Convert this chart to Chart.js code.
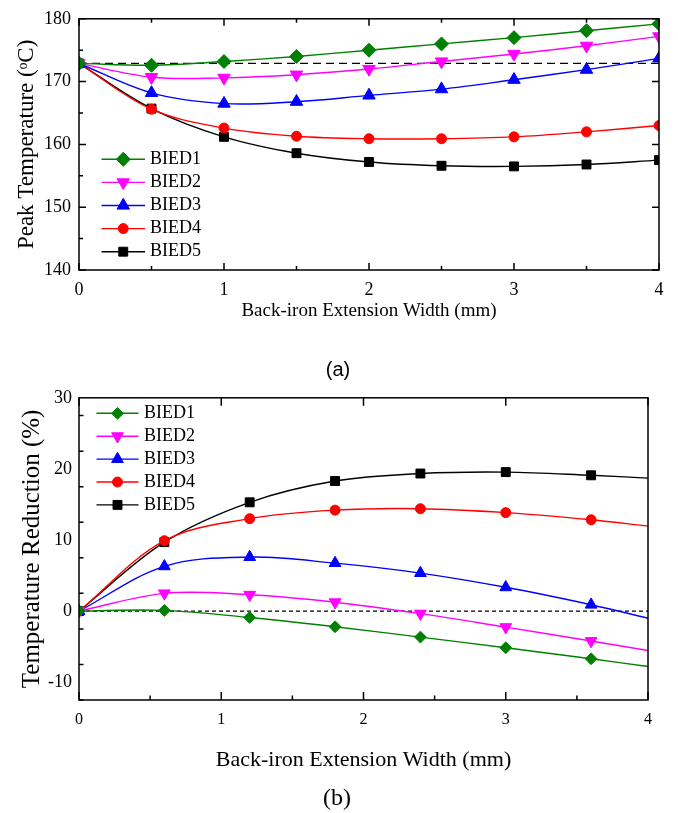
<!DOCTYPE html>
<html>
<head>
<meta charset="utf-8">
<script src="https://cdn.jsdelivr.net/npm/chart.js@4.4.1/dist/chart.umd.min.js"></script>
<style>
  html, body { margin: 0; padding: 0; background: #fff; }
  body { width: 678px; height: 813px; position: relative; overflow: hidden; }
  .box { position: absolute; left: 0; width: 678px; }
  #boxA { top: 0; height: 340px; }
  #boxB { top: 380px; height: 433px; }
  .cap { position: absolute; transform: translate(-50%, -50%); white-space: nowrap; color: #000; }
  #capA { left: 338px; top: 369px; font: 20px "Liberation Sans", Arial, sans-serif; }
  #capB { left: 337px; top: 797px; font: 24px "Liberation Serif", "Times New Roman", serif; }
</style>
</head>
<body>
<div class="box" id="boxA"><canvas id="chartA"></canvas></div>
<div class="box" id="boxB"><canvas id="chartB"></canvas></div>
<div class="cap" id="capA">(a)</div>
<div class="cap" id="capB">(b)</div>
<script>
// ---- (a) peak temperature vs back-iron extension width ----
const widthA = [0, 0.5, 1, 1.5, 2, 2.5, 3, 3.5, 4];
const peakBIED1 = [172.9, 172.6, 173.2, 174.0, 175.0, 176.0, 177.0, 178.1, 179.2];
const peakBIED2 = [172.9, 170.7, 170.6, 171.1, 172.0, 173.2, 174.4, 175.7, 177.2];
const peakBIED3 = [172.9, 168.2, 166.5, 166.8, 167.8, 168.8, 170.3, 171.9, 173.7];
const peakBIED4 = [172.9, 165.6, 162.6, 161.3, 160.9, 160.9, 161.2, 162.0, 163.0];
const peakBIED5 = [172.9, 165.7, 161.2, 158.6, 157.2, 156.6, 156.5, 156.8, 157.5];
const peakBaseline = 172.9;

// ---- (b) temperature reduction vs back-iron extension width ----
const widthB = [0, 0.6, 1.2, 1.8, 2.4, 3.0, 3.6, 4.0];
const redBIED1 = [0, 0.1, -0.9, -2.2, -3.65, -5.15, -6.7, -7.8];
const redBIED2 = [0, 2.5, 2.3, 1.25, -0.35, -2.25, -4.2, -5.55];
const redBIED3 = [0, 6.3, 7.6, 6.75, 5.35, 3.35, 0.9, -1.0];
const redBIED4 = [0, 9.9, 13.0, 14.2, 14.4, 13.85, 12.85, 11.95];
const redBIED5 = [0, 9.7, 15.3, 18.3, 19.35, 19.55, 19.1, 18.7];
const redBaseline = 0;

// ---- shared series look and tick labels ----
const seriesNames = ['BIED1', 'BIED2', 'BIED3', 'BIED4', 'BIED5'];
const seriesColors = ['#008000', '#ff00ff', '#0000ff', '#ff0000', '#000000'];
const seriesMarkers = ['rectRot', 'triangle', 'triangle', 'circle', 'rect'];
const seriesMarkerTurn = [0, 180, 0, 0, 0];
const xTickValues = [0, 1, 2, 3, 4];
const yTickValuesA = [140, 150, 160, 170, 180];
const yTickValuesB = [-10, 0, 10, 20, 30];

const SERIF = '"Liberation Serif", "Times New Roman", serif';
Chart.defaults.font.family = SERIF;
Chart.defaults.color = '#000';

function series(xs, ys, i, radius, markLast) {
  return {
    label: seriesNames[i],
    data: xs.map((x, k) => ({ x: x, y: ys[k] })),
    borderColor: seriesColors[i],
    backgroundColor: seriesColors[i],
    pointBackgroundColor: seriesColors[i],
    pointBorderColor: seriesColors[i],
    pointStyle: seriesMarkers[i],
    pointRotation: seriesMarkerTurn[i],
    pointRadius: markLast ? radius : xs.map((_, k) => (k === xs.length - 1 ? 0 : radius)),
    pointBorderWidth: 1,
    borderWidth: 1.4,
    tension: 0.35,
    markerSize: radius
  };
}

function baseline(value, dash) {
  return {
    label: '',
    inLegend: false,
    data: [{ x: 0, y: value }, { x: 4, y: value }],
    borderColor: '#000',
    borderWidth: 1.2,
    borderDash: dash,
    pointRadius: 0,
    tension: 0
  };
}

// inward tick marks on all four sides plus the box frame
const framePlugin = {
  id: 'frame',
  afterDatasetsDraw(chart, args, o) {
    const { ctx, chartArea: a } = chart;
    const xs = chart.scales.x, ys = chart.scales.y;
    const majX = xTickValues;
    const minX = majX.slice(0, -1).map(v => v + 0.5);
    const step = o.yStep;
    const majY = [], minY = [];
    for (let v = ys.min; v <= ys.max + 1e-9; v += step / 2) {
      const r = Math.round(v * 1000) / 1000;
      if (Math.abs(r / step - Math.round(r / step)) < 1e-6) majY.push(r); else minY.push(r);
    }
    ctx.save();
    ctx.strokeStyle = '#000';
    ctx.lineWidth = o.lineWidth;
    ctx.beginPath();
    const line = (x1, y1, x2, y2) => { ctx.moveTo(x1, y1); ctx.lineTo(x2, y2); };
    majX.forEach(v => {
      const p = xs.getPixelForValue(v);
      line(p, a.bottom, p, a.bottom - o.major);
      line(p, a.top, p, a.top + o.major);
    });
    minX.forEach(v => {
      const p = xs.getPixelForValue(v);
      line(p, a.bottom, p, a.bottom - o.minor);
      if (o.topMinor) line(p, a.top, p, a.top + o.minor);
    });
    majY.forEach(v => {
      const p = ys.getPixelForValue(v);
      line(a.left, p, a.left + o.major, p);
      line(a.right, p, a.right - o.major, p);
    });
    minY.forEach(v => {
      const p = ys.getPixelForValue(v);
      line(a.left, p, a.left + o.minor, p);
      if (o.rightMinor) line(a.right, p, a.right - o.minor, p);
    });
    ctx.stroke();
    ctx.strokeRect(a.left, a.top, a.right - a.left, a.bottom - a.top);
    ctx.restore();
  }
};

// legend rows: short line with the marker in its middle, then the name
const lineLegendPlugin = {
  id: 'lineLegend',
  afterDraw(chart, args, o) {
    const ctx = chart.ctx;
    ctx.save();
    let row = 0;
    chart.data.datasets.forEach(ds => {
      if (ds.inLegend === false) return;
      const y = o.top + row * o.step;
      row++;
      ctx.strokeStyle = ds.borderColor;
      ctx.lineWidth = ds.borderWidth;
      ctx.setLineDash([]);
      ctx.beginPath();
      ctx.moveTo(o.lineStart, y);
      ctx.lineTo(o.lineEnd, y);
      ctx.stroke();
      ctx.fillStyle = ds.pointBackgroundColor;
      ctx.strokeStyle = ds.pointBorderColor;
      ctx.lineWidth = 1;
      Chart.helpers.drawPoint(ctx, {
        pointStyle: ds.pointStyle,
        rotation: ds.pointRotation,
        radius: ds.markerSize,
        borderWidth: 1
      }, (o.lineStart + o.lineEnd) / 2, y);
      ctx.fillStyle = '#000';
      ctx.font = o.fontSize + 'px ' + SERIF;
      ctx.textAlign = 'left';
      ctx.textBaseline = 'middle';
      ctx.fillText(ds.label, o.textX, y);
    });
    ctx.restore();
  }
};

function makeChart(id, cfg) {
  return new Chart(document.getElementById(id), {
    type: 'line',
    data: { datasets: cfg.datasets },
    plugins: [framePlugin, lineLegendPlugin],
    options: {
      responsive: true,
      maintainAspectRatio: false,
      animation: false,
      events: [],
      layout: { padding: cfg.padding },
      plugins: {
        legend: { display: false },
        tooltip: { enabled: false },
        frame: cfg.frame,
        lineLegend: cfg.legend
      },
      scales: {
        x: {
          type: 'linear',
          min: 0,
          max: 4,
          afterBuildTicks: s => { s.ticks = xTickValues.map(v => ({ value: v })); },
          afterFit: s => { s.height = cfg.xHeight; },
          grid: { display: false, drawTicks: false },
          border: { display: false },
          ticks: { padding: cfg.xTickPad, font: { size: cfg.xTickSize }, color: '#000', maxRotation: 0 },
          title: {
            display: true,
            text: 'Back-iron Extension Width (mm)',
            font: { size: cfg.xTitleSize },
            color: '#000',
            padding: { top: 0, bottom: cfg.xTitleBottom }
          }
        },
        y: {
          type: 'linear',
          min: cfg.yMin,
          max: cfg.yMax,
          afterBuildTicks: s => { s.ticks = cfg.yTicks.map(v => ({ value: v })); },
          afterFit: s => { s.width = 79; },
          grid: { display: false, drawTicks: false },
          border: { display: false },
          ticks: { padding: cfg.yTickPad, font: { size: cfg.yTickSize }, color: '#000' },
          title: {
            display: true,
            text: cfg.yTitle,
            font: { size: cfg.yTitleSize },
            color: '#000',
            padding: { top: cfg.yTitleLeft, bottom: 0 }
          }
        }
      }
    }
  });
}

makeChart('chartA', {
  datasets: [
    series(widthA, peakBIED1, 0, 7, true),
    series(widthA, peakBIED2, 1, 7.2, true),
    series(widthA, peakBIED3, 2, 7.2, true),
    series(widthA, peakBIED4, 3, 5, true),
    series(widthA, peakBIED5, 4, 6.3, true),
    baseline(peakBaseline, [8, 5])
  ],
  padding: { top: 10, right: 19, left: 0, bottom: 0 },
  xHeight: 70, xTickPad: 9, xTickSize: 18, xTitleSize: 19, xTitleBottom: 18,
  yMin: 140, yMax: 180, yTicks: yTickValuesA,
  yTickPad: 8, yTickSize: 18,
  yTitle: 'Peak Temperature (\u1D52C)', yTitleSize: 23, yTitleLeft: 13,
  frame: { yStep: 10, major: 7, minor: 4, lineWidth: 1.5, topMinor: true, rightMinor: false },
  legend: { top: 159.3, step: 23.1, lineStart: 101.5, lineEnd: 145, textX: 150, fontSize: 18 }
});

makeChart('chartB', {
  datasets: [
    series(widthB, redBIED1, 0, 5.9, false),
    series(widthB, redBIED2, 1, 6.8, false),
    series(widthB, redBIED3, 2, 6.8, false),
    series(widthB, redBIED4, 3, 5, false),
    series(widthB, redBIED5, 4, 6.3, false),
    baseline(redBaseline, [4, 3])
  ],
  padding: { top: 17.7, right: 30, left: 0, bottom: 0 },
  xHeight: 113, xTickPad: 10, xTickSize: 16, xTitleSize: 22, xTitleBottom: 40,
  yMin: -12.5, yMax: 30, yTicks: yTickValuesB,
  yTickPad: 7, yTickSize: 18,
  yTitle: 'Temperature Reduction (%)', yTitleSize: 25, yTitleLeft: 17,
  frame: { yStep: 10, major: 8, minor: 4.5, lineWidth: 1.5, topMinor: false, rightMinor: false },
  legend: { top: 413.3 - 380, step: 22.9, lineStart: 96.5, lineEnd: 138.5, textX: 144, fontSize: 18 }
});
</script>
</body>
</html>
